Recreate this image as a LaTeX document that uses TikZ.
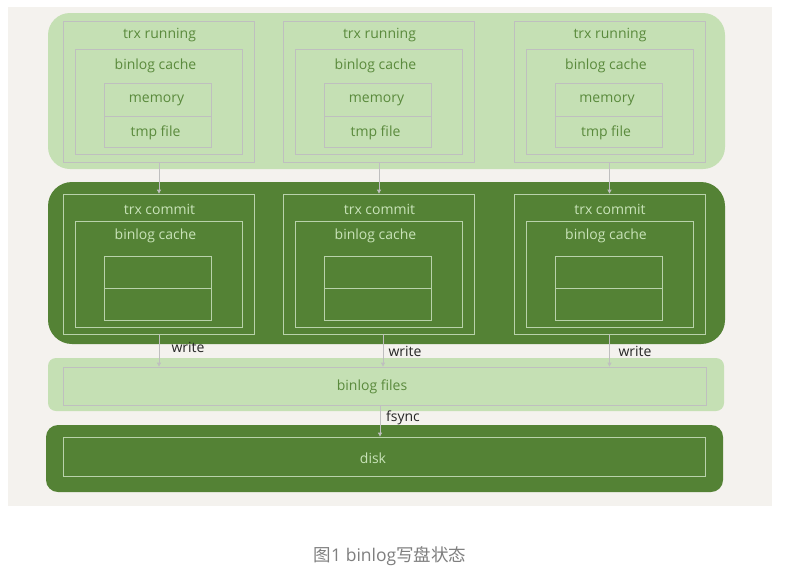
\documentclass[tikz,border=0pt]{standalone}
\usepackage{fontspec}
\setmainfont{Open Sans}
\newfontfamily\cjkfont{Noto Sans CJK SC}
\usetikzlibrary{arrows.meta}
\definecolor{bgc}{HTML}{F4F2EE}
\definecolor{lgreen}{HTML}{C5E0B4}
\definecolor{dgreen}{HTML}{548235}
\definecolor{lline}{HTML}{BFBFBF}
\definecolor{dline}{HTML}{B9D2AB}
\definecolor{ltext}{HTML}{5A8A3C}
\definecolor{dtext}{HTML}{C9E3B9}
\definecolor{lbl}{HTML}{262626}
\definecolor{capc}{HTML}{7F7F7F}
\tikzset{
  band/.style={draw=none, inner sep=0pt},
  lbox/.style={draw=lline, line width=0.8pt, inner sep=0pt},
  dbox/.style={draw=dline, line width=0.8pt, inner sep=0pt},
  ltxt/.style={text=ltext, font=\fontsize{14}{16}\selectfont, inner sep=0pt},
  dtxt/.style={text=dtext, font=\fontsize{14}{16}\selectfont, inner sep=0pt},
  arr/.style={draw=lline, line width=0.8pt, -{Triangle[length=4pt,width=4pt]}},
  lab/.style={text=lbl, font=\fontsize{14}{16}\selectfont, inner sep=0pt}
}
\begin{document}
\begin{tikzpicture}[x=1pt,y=-1pt]
\useasboundingbox (0,0) rectangle (786,574);
\fill[white] (0,0) rectangle (786,574);
\fill[bgc] (8,7) rectangle (772,506);
% bands
\node[band, fill=lgreen, rounded corners=22pt, minimum width=677pt, minimum height=156pt] (runband) at (386.5,91) {};
\node[band, fill=dgreen, rounded corners=24pt, minimum width=677pt, minimum height=162pt] (comband) at (386.5,263) {};
\node[band, fill=lgreen, rounded corners=8pt, minimum width=676pt, minimum height=53pt] (fileband) at (386,384.5) {};
\node[band, fill=dgreen, rounded corners=12pt, minimum width=677pt, minimum height=67pt] (diskband) at (384.5,458.5) {};
% columns
\foreach \i/\L in {1/63.5, 2/283.5, 3/514} {
  % running
  \node[lbox, minimum width=191pt, minimum height=141pt] (r\i) at (\L+95.5,91.5) {};
  \node[lbox, minimum width=167pt, minimum height=105pt] (rc\i) at (\L+95.5,101.5) {};
  \node[lbox, minimum width=107pt, minimum height=33pt] (rm\i) at (\L+94.5,99.5) {};
  \node[lbox, minimum width=107pt, minimum height=31pt] (rt\i) at (\L+94.5,131.5) {};
  \node[ltxt] (rtitle\i) at (\L+96,35) {trx running};
  \node[ltxt] (rctitle\i) at (\L+92,66) {binlog cache};
  \node[ltxt] (rmt\i) at (\L+93,100) {memory};
  \node[ltxt] (rtt\i) at (\L+92,133) {tmp file};
  % commit
  \node[dbox, minimum width=191pt, minimum height=140pt] (c\i) at (\L+95.5,264) {};
  \node[dbox, minimum width=167pt, minimum height=106pt] (cc\i) at (\L+95.5,274) {};
  \node[dbox, minimum width=107pt, minimum height=32pt] (cm\i) at (\L+94.5,272) {};
  \node[dbox, minimum width=107pt, minimum height=32pt] (ct\i) at (\L+94.5,304) {};
  \node[dtxt] (ctitle\i) at (\L+96,209) {trx commit};
  \node[dtxt] (cctitle\i) at (\L+92,236) {binlog cache};
}
% files and disk
\node[lbox, minimum width=643pt, minimum height=38pt] (fin) at (384.5,386) {};
\node[ltxt] (fintxt) at (372,387) {binlog files};
\node[dbox, minimum width=642pt, minimum height=39pt] (din) at (384,456.5) {};
\node[dtxt] (dintxt) at (373,458) {disk};
% arrows
\foreach \i in {1,2,3} {
  \draw[arr] (r\i.south) -- (c\i.north);
}
\draw[arr] (c1.south) -- (c1.south |- fin.north);
\draw[arr] ([xshift=4pt]c2.south) -- ([xshift=4pt]c2.south |- fin.north);
\draw[arr] (c3.south) -- (c3.south |- fin.north);
\draw[arr] ([xshift=-4.5pt]fin.south) -- ([xshift=-4.5pt]fin.south |- din.north);
% labels
\node[lab] (w1) at (188,347) {write};
\node[lab] (w2) at (405,351) {write};
\node[lab] (w3) at (635,351) {write};
\node[lab] (fs) at (403,418) {fsync};
% caption
\node[text=capc, font=\fontsize{17.5}{20}\selectfont, inner sep=0pt] (cap) at (390,556) {{\cjkfont 图}1 binlog{\cjkfont 写盘状态}};
\end{tikzpicture}
\end{document}
